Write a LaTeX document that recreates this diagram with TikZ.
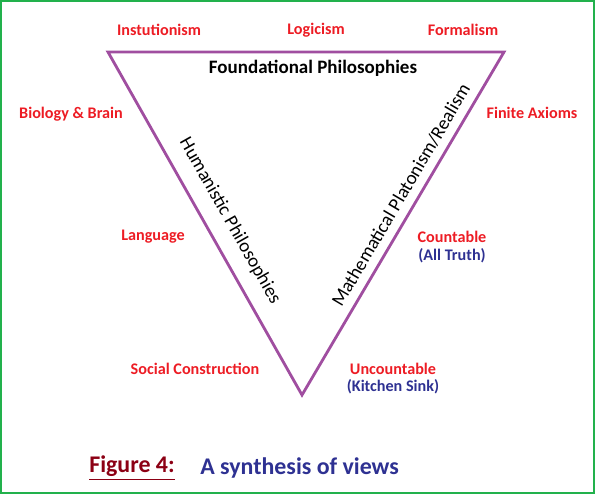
\documentclass[tikz,border=0pt]{standalone}
\usepackage{fontspec}
\setmainfont{Carlito}
\usepackage{tikz}
\definecolor{vpurple}{RGB}{160,78,160}
\definecolor{vred}{RGB}{237,28,36}
\definecolor{vblue}{RGB}{46,49,146}
\definecolor{vdarkred}{RGB}{140,0,20}
\definecolor{vgreen}{RGB}{34,177,76}

\begin{document}
\begin{tikzpicture}[x=0.025cm,y=-0.025cm,
        view/.style={font=\fontsize{11.5}{13}\selectfont\bfseries,text=vred,inner sep=0pt},
        note/.style={font=\fontsize{11.5}{13}\selectfont\bfseries,text=vblue,inner sep=0pt},
        side/.style={font=\fontsize{13.5}{15}\selectfont,inner sep=0pt},
        caption/.style={font=\fontsize{17}{19}\selectfont\bfseries,inner sep=0pt,anchor=west}
      ]
        \useasboundingbox (0,0) rectangle (596,495);
        \draw[vgreen,line width=1pt] (1,1) rectangle (594,493);

        % triangle of views
        \coordinate (tl) at (108,52);
        \coordinate (tr) at (504,52);
        \coordinate (bt) at (302,395);
        \draw[vpurple,line width=2pt,line join=miter] (tl) -- (tr) -- (bt) -- cycle;

        \node[font=\fontsize{13.5}{15}\selectfont\bfseries,inner sep=0pt] (found) at (313,68) {Foundational Philosophies};
        \node[side,rotate=-60.5] (human) at (230,221) {Humanistic Philosophies};
        \node[side,rotate=59.5] (plato) at (401,195) {Mathematical Platonism/Realism};

        \node[view] (intu) at (159,30) {Instutionism};
        \node[view] (logi) at (316,30) {Logicism};
        \node[view] (form) at (463,30) {Formalism};
        \node[view] (bio) at (71,114) {Biology \& Brain};
        \node[view] (fin) at (532,113) {Finite Axioms};
        \node[view] (lang) at (153,237) {Language};
        \node[view] (count) at (452,237) {Countable};
        \node[note] (truth) at (452,256) {(All Truth)};
        \node[view] (soc) at (195,369) {Social Construction};
        \node[view] (unc) at (393,369) {Uncountable};
        \node[note] (sink) at (393,387) {(Kitchen Sink)};

        \node[caption,text=vdarkred] (fig) at (89,468) {\underline{Figure 4:}};
        \node[caption,text=vblue] (syn) at (200,468) {A synthesis of views};
      \end{tikzpicture}
\end{document}
